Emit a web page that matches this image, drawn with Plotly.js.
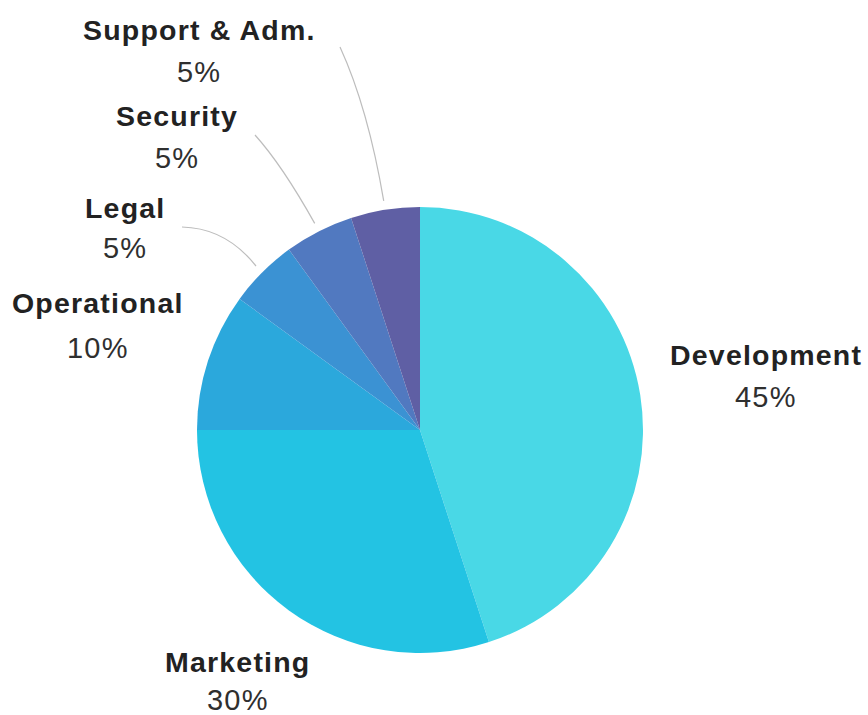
<!DOCTYPE html>
<html>
<head>
<meta charset="utf-8">
<script src="https://cdn.plot.ly/plotly-3.0.1.min.js"></script>
<style>
html,body{margin:0;padding:0;background:#fff;}
#chart{width:868px;height:715px;}
.annotation-text{letter-spacing:1.2px;}
</style>
</head>
<body>
<div id="chart"></div>
<script>
// ---- data ----
var categories = ["Development", "Marketing", "Operational", "Legal", "Security", "Support & Adm."];
var shares = [45, 30, 10, 5, 5, 5];
var sliceColors = ["#49d8e6", "#23c3e3", "#2ba8dc", "#3b92d3", "#5179c0", "#5f5fa4"];

// ---- layout config (pixels in the 868x715 canvas) ----
var W = 868, H = 715;
var cx = 420, cy = 430, R = 223;
// label centre positions: [nameX, nameY, pctY]
var labelPos = [
  [766, 355, 397],
  [238, 662, 700],
  [98, 303, 348],
  [125, 208, 248],
  [177, 116, 158],
  [199, 30, 72]
];
// leader lines for the small slices: index -> [startX, startY, ctrlX, ctrlY]
var leaders = {3: [182, 227, 226, 228], 4: [255, 135, 282, 165], 5: [340, 47, 368, 108]};

function px(x) { return x / W; }
function py(y) { return 1 - y / H; }

var total = shares.reduce(function (a, b) { return a + b; }, 0);
var annotations = [];
var shapes = [];
var cum = 0;
for (var i = 0; i < categories.length; i++) {
  var mid = (cum + shares[i] / 2) / total * 2 * Math.PI;
  cum += shares[i];
  var lp = labelPos[i];
  annotations.push({
    xref: "paper", yref: "paper", x: px(lp[0]), y: py(lp[1]),
    text: "<b>" + categories[i].replace("&", "&amp;") + "</b>", showarrow: false,
    xanchor: "center", yanchor: "middle",
    font: {family: "Liberation Sans, Arial, sans-serif", size: 28.5, color: "#222222"}
  });
  annotations.push({
    xref: "paper", yref: "paper", x: px(lp[0]), y: py(lp[2]),
    text: Math.round(shares[i] / total * 100) + "%", showarrow: false,
    xanchor: "center", yanchor: "middle",
    font: {family: "Liberation Sans, Arial, sans-serif", size: 29, color: "#2f2f2f"}
  });
  if (leaders[i]) {
    var L = leaders[i];
    var ex = cx + 1.04 * R * Math.sin(mid);
    var ey = cy - 1.04 * R * Math.cos(mid);
    shapes.push({
      type: "path", xref: "paper", yref: "paper",
      path: "M " + px(L[0]) + "," + py(L[1]) + " Q " + px(L[2]) + "," + py(L[3]) + " " + px(ex) + "," + py(ey),
      line: {color: "#bdbdbd", width: 1.2}
    });
  }
}

var trace = {
  type: "pie",
  labels: categories,
  values: shares,
  sort: false,
  direction: "clockwise",
  rotation: 0,
  textinfo: "none",
  hoverinfo: "label+percent",
  marker: {colors: sliceColors, line: {width: 0}},
  domain: {x: [px(cx - R), px(cx + R)], y: [py(cy + R), py(cy - R)]},
  showlegend: false
};

var layout = {
  width: W, height: H,
  margin: {l: 0, r: 0, t: 0, b: 0},
  paper_bgcolor: "#ffffff",
  showlegend: false,
  annotations: annotations,
  shapes: shapes
};

Plotly.newPlot("chart", [trace], layout, {displayModeBar: false, staticPlot: true});
</script>
</body>
</html>
